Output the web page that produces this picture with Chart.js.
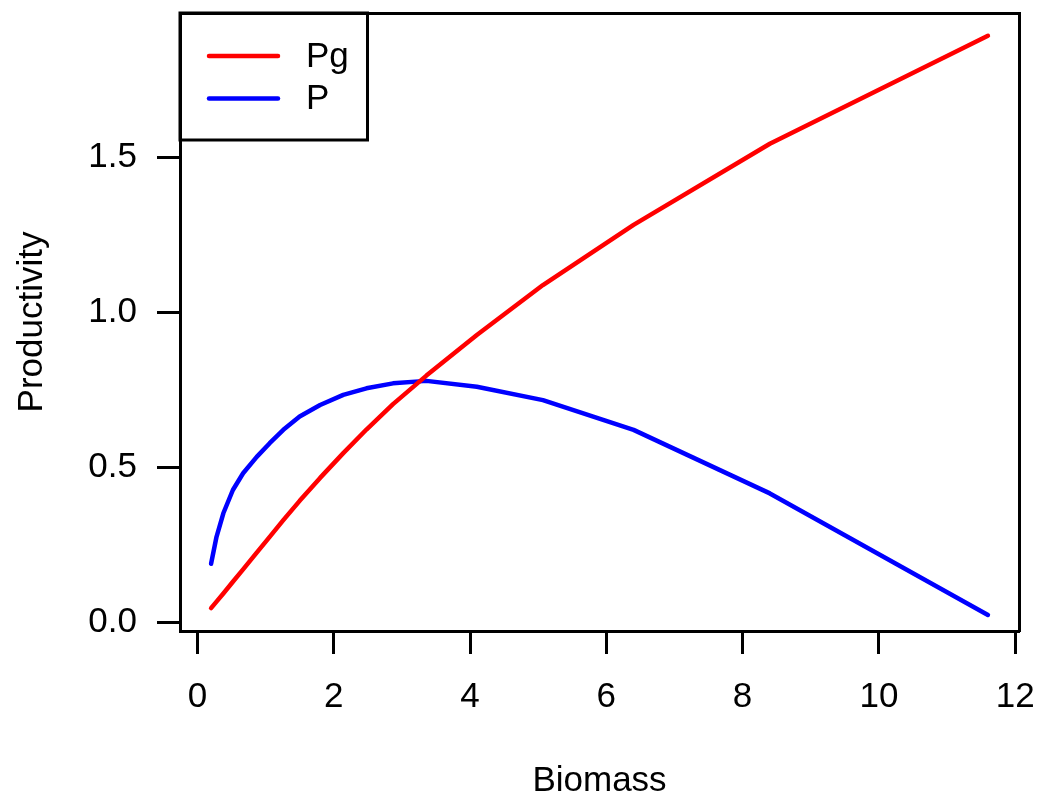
<!DOCTYPE html>
<html>
<head>
<meta charset="utf-8">
<script src="https://cdn.jsdelivr.net/npm/chart.js@4"></script>
<style>
  body { margin: 0; background: #fff; }
  #wrap { width: 1040px; height: 799px; }
</style>
</head>
<body>
<div id="wrap"><canvas id="plot" width="1040" height="799"></canvas></div>
<script>
/* values */
var biomass = [0.2, 0.28, 0.38, 0.52, 0.67, 0.87, 1.06, 1.26, 1.5, 1.8, 2.14, 2.48, 2.87, 3.36, 4.10, 5.07, 6.40, 8.40, 11.6];
var pg_values = [0.047, 0.068, 0.094, 0.132, 0.172, 0.226, 0.277, 0.331, 0.393, 0.467, 0.547, 0.623, 0.705, 0.797, 0.928, 1.089, 1.283, 1.545, 1.893];
var p_values = [0.190, 0.277, 0.353, 0.428, 0.482, 0.535, 0.579, 0.622, 0.665, 0.702, 0.735, 0.756, 0.772, 0.780, 0.761, 0.718, 0.622, 0.417, 0.025];
var series_names = ["Pg", "P"];
var series_colors = ["#ff0000", "#0000ff"];
var x_ticks = [0, 2, 4, 6, 8, 10, 12];
var y_ticks = [0.0, 0.5, 1.0, 1.5];

var FONT = "'Liberation Sans', Arial, Helvetica, sans-serif";

function points(xs, ys) {
  return xs.map(function (x, i) { return {x: x, y: ys[i]}; });
}

/* no extra room for half labels: the box sits where R puts it */
function noPad(scale) {
  scale.paddingLeft = 0;
  scale.paddingRight = 0;
  scale.paddingTop = 0;
  scale.paddingBottom = 0;
}

/* R style legend box in the top-left corner of the plot */
const legendBox = {
  id: 'legendBox',
  afterDraw(chart) {
    const ctx = chart.ctx;
    const area = chart.chartArea;
    ctx.save();
    ctx.lineWidth = 3;
    ctx.strokeStyle = '#000';
    ctx.strokeRect(area.left, area.top, 187.5, 127);
    ctx.font = '35px ' + FONT;
    ctx.textBaseline = 'middle';
    ctx.fillStyle = '#000';
    chart.data.datasets.forEach(function (ds, i) {
      const y = area.top + 43 + i * 42.6;
      ctx.beginPath();
      ctx.lineWidth = 4.5;
      ctx.lineCap = 'round';
      ctx.strokeStyle = ds.borderColor;
      ctx.moveTo(area.left + 29, y);
      ctx.lineTo(area.left + 98, y);
      ctx.stroke();
      ctx.fillText(ds.label, area.left + 126, y + 1);
    });
    ctx.restore();
  }
};

const ctx = document.getElementById('plot');

new Chart(ctx, {
  type: 'line',
  data: {
    datasets: [
      {label: series_names[0], data: points(biomass, pg_values), borderColor: series_colors[0], borderWidth: 4.5},
      {label: series_names[1], data: points(biomass, p_values), borderColor: series_colors[1], borderWidth: 4.5}
    ]
  },
  options: {
    responsive: false,
    animation: false,
    events: [],
    layout: {padding: {top: 13, right: 21, left: 0, bottom: 0}},
    elements: {
      line: {borderWidth: 4.5, tension: 0, borderCapStyle: 'round', borderJoinStyle: 'round', fill: false},
      point: {radius: 0}
    },
    plugins: {legend: {display: false}, tooltip: {enabled: false}},
    scales: {
      x: {
        type: 'linear',
        position: 'bottom',
        min: -0.256,
        max: 12.056,
        afterBuildTicks: function (scale) { scale.ticks = x_ticks.map(function (v) { return {value: v}; }); },
        afterFit: function (scale) { scale.height = 168; noPad(scale); },
        grid: {drawOnChartArea: false, drawTicks: true, tickLength: 23, tickWidth: 3, tickColor: '#000'},
        border: {display: true, width: 3, color: '#000'},
        ticks: {font: {family: FONT, size: 35}, color: '#000', padding: 22, maxRotation: 0, autoSkip: false},
        title: {display: true, text: 'Biomass', color: '#000', font: {family: FONT, size: 35, lineHeight: 1}, padding: {top: 0, bottom: 0}}
      },
      y: {
        type: 'linear',
        position: 'left',
        min: -0.0268,
        max: 1.9666,
        afterBuildTicks: function (scale) { scale.ticks = y_ticks.map(function (v) { return {value: v}; }); },
        afterFit: function (scale) { scale.width = 180; noPad(scale); },
        grid: {drawOnChartArea: false, drawTicks: true, tickLength: 23, tickWidth: 3, tickColor: '#000'},
        border: {display: true, width: 3, color: '#000'},
        ticks: {font: {family: FONT, size: 35}, color: '#000', padding: 20, autoSkip: false,
                callback: function (v) { return Number(v).toFixed(1); }},
        title: {display: true, text: 'Productivity', color: '#000', font: {family: FONT, size: 35, lineHeight: 1}, padding: {top: 15, bottom: 0}}
      },
      /* top and right sides of the box */
      x2: {
        type: 'linear', position: 'top', display: true,
        afterFit: function (scale) { scale.height = 0; noPad(scale); },
        grid: {display: false, drawTicks: false}, ticks: {display: false},
        border: {display: true, width: 3, color: '#000'}
      },
      y2: {
        type: 'linear', position: 'right', display: true,
        afterFit: function (scale) { scale.width = 0; noPad(scale); },
        grid: {display: false, drawTicks: false}, ticks: {display: false},
        border: {display: true, width: 3, color: '#000'}
      }
    }
  },
  plugins: [legendBox]
});
</script>
</body>
</html>
